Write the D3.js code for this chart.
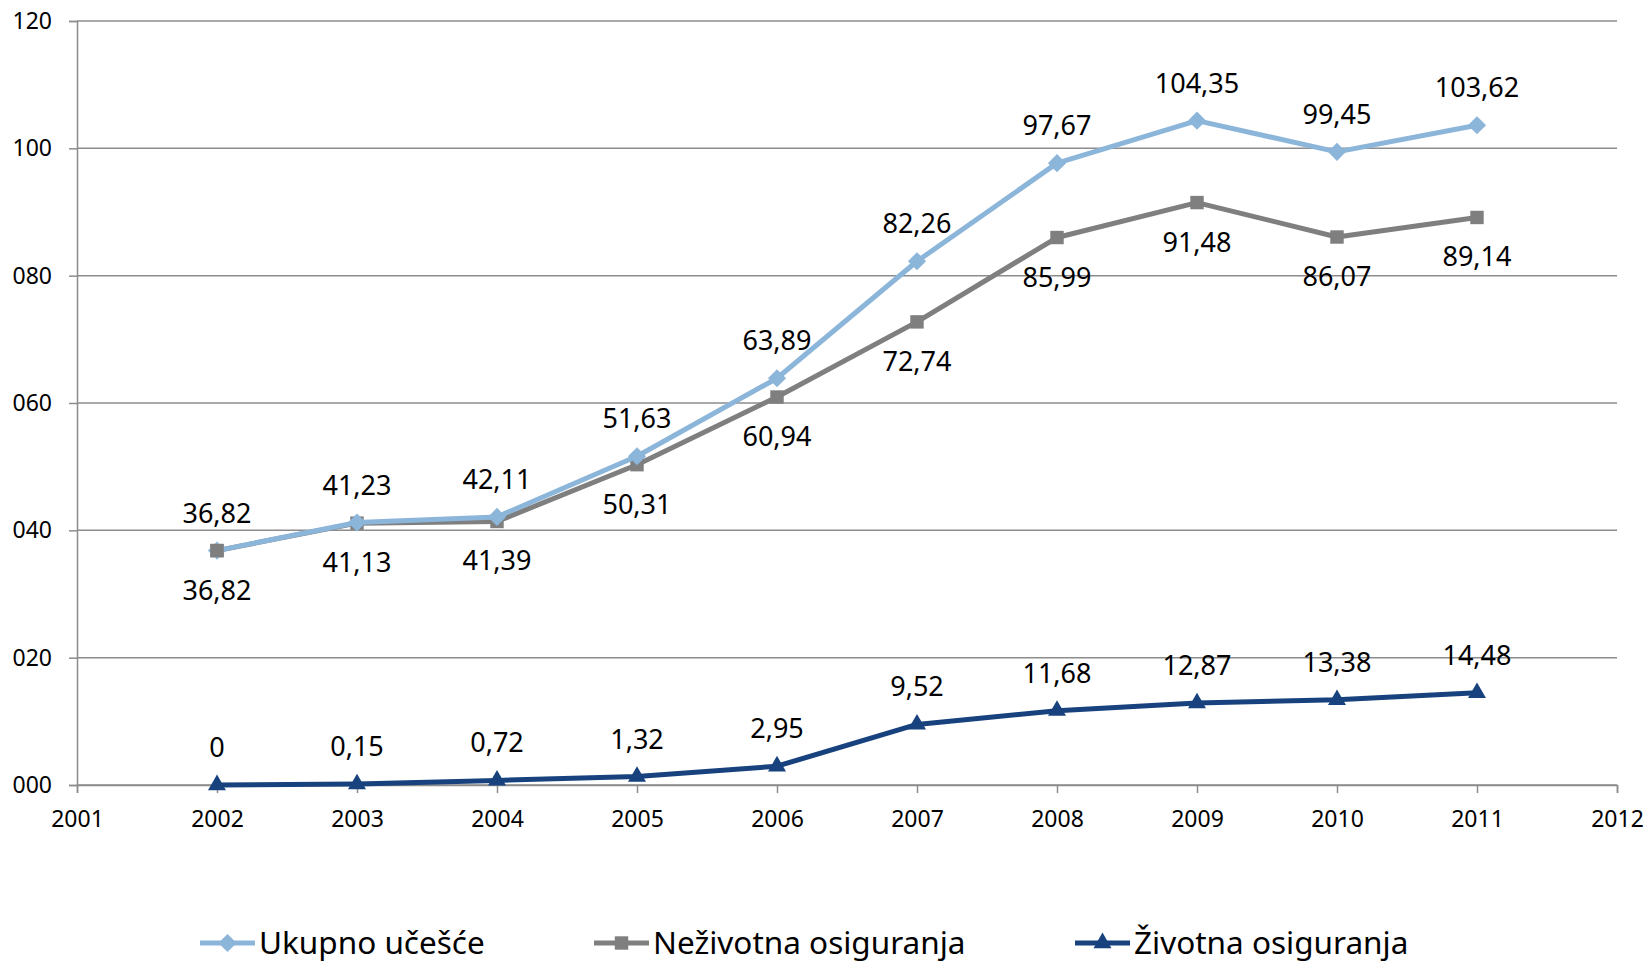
<!DOCTYPE html>
<html><head><meta charset="utf-8">
<script src="https://cdn.jsdelivr.net/npm/d3@7"></script>
<style>body{margin:0;background:#fff;} svg{display:block;font-family:"Noto Sans",sans-serif;}</style>
</head><body>
<svg id="c" width="1648" height="963"></svg>
<script>
const years = [2002,2003,2004,2005,2006,2007,2008,2009,2010,2011];
const ukupno = [36.82,41.23,42.11,51.63,63.89,82.26,97.67,104.35,99.45,103.62];
const nezivotna = [36.82,41.13,41.39,50.31,60.94,72.74,85.99,91.48,86.07,89.14];
const zivotna = [0,0.15,0.72,1.32,2.95,9.52,11.68,12.87,13.38,14.48];
const seriesNames = ["Ukupno učešće","Neživotna osiguranja","Životna osiguranja"];
const yTicks = [0,20,40,60,80,100,120];
const xTicks = [2001,2002,2003,2004,2005,2006,2007,2008,2009,2010,2011,2012];

const svg = d3.select("#c");
const x = d3.scaleLinear().domain([2001,2012]).range([77,1617]);
const y = d3.scaleLinear().domain([0,120]).range([785,21]);
const gridCol = "#8c8c8c";

svg.append("g").selectAll("line").data(yTicks).join("line")
  .attr("x1",x(2001)).attr("x2",x(2012)).attr("y1",d=>y(d)).attr("y2",d=>y(d))
  .attr("stroke",gridCol).attr("stroke-width",1.5);

const yAx = svg.append("g").attr("transform",`translate(${x(2001)},0)`)
  .call(d3.axisLeft(y).tickValues(yTicks).tickFormat(d3.format("03d")).tickSize(8).tickPadding(17));
yAx.select(".domain").attr("stroke",gridCol).attr("stroke-width",1.5);
yAx.selectAll(".tick line").attr("stroke",gridCol).attr("stroke-width",1.5);
yAx.selectAll("text").attr("font-size",23).attr("fill","#000").attr("font-family","Noto Sans");

const xAx = svg.append("g").attr("transform",`translate(0,${y(0)})`)
  .call(d3.axisBottom(x).tickValues(xTicks).tickFormat(d3.format("d")).tickSize(8).tickPadding(18));
xAx.select(".domain").attr("stroke",gridCol).attr("stroke-width",1.5);
xAx.selectAll(".tick line").attr("stroke",gridCol).attr("stroke-width",1.5);
xAx.selectAll("text").attr("font-size",23).attr("fill","#000").attr("font-family","Noto Sans");

const series = [
  {name:seriesNames[0], vals:ukupno, color:"#8cb5da", sym:d3.symbolSquare, size:165, rot:45, labelPos:"above"},
  {name:seriesNames[1], vals:nezivotna, color:"#7f7f7f", sym:d3.symbolSquare, size:180, rot:0, labelPos:"below"},
  {name:seriesNames[2], vals:zivotna, color:"#17427e", sym:d3.symbolTriangle, size:140, rot:0, labelPos:"above"}
];
const fmt = v => String(v).replace(".",",");
const line = d3.line().x((d,i)=>x(years[i])).y(d=>y(d));

[series[2], series[1], series[0]].forEach(s=>{
  svg.append("path").datum(s.vals).attr("d",line).attr("fill","none")
    .attr("stroke",s.color).attr("stroke-width",5).attr("stroke-linejoin","round");
  svg.append("g").selectAll("path").data(s.vals).join("path")
    .attr("d",d3.symbol().type(s.sym).size(s.size))
    .attr("transform",(d,i)=>`translate(${x(years[i])},${y(d)}) rotate(${s.rot})`)
    .attr("fill",s.color);
});
svg.append("path").attr("d",d3.symbol().type(d3.symbolSquare).size(180))
  .attr("transform",`translate(${x(years[0])},${y(nezivotna[0])})`).attr("fill","#7f7f7f");

series.forEach(s=>{
  svg.append("g").selectAll("text").data(s.vals).join("text")
    .attr("x",(d,i)=>x(years[i]))
    .attr("y",d=> s.labelPos==="above" ? y(d)-28 : y(d)+49)
    .attr("text-anchor","middle").attr("font-size",27).attr("fill","#000")
    .text(d=>fmt(d));
});

const legend = [
  {x0:200, s:series[0]},
  {x0:594, s:series[1]},
  {x0:1075, s:series[2]}
];
const ly = 943;
legend.forEach(l=>{
  const g = svg.append("g");
  g.append("line").attr("x1",l.x0).attr("x2",l.x0+55).attr("y1",ly).attr("y2",ly)
    .attr("stroke",l.s.color).attr("stroke-width",5);
  g.append("path").attr("d",d3.symbol().type(l.s.sym).size(l.s.size))
    .attr("transform",`translate(${l.x0+27.5},${ly}) rotate(${l.s.rot})`).attr("fill",l.s.color);
  g.append("text").attr("x",l.x0+59).attr("y",ly+11).attr("font-size",31.5).attr("fill","#000")
    .text(l.s.name);
});
</script>
</body></html>
